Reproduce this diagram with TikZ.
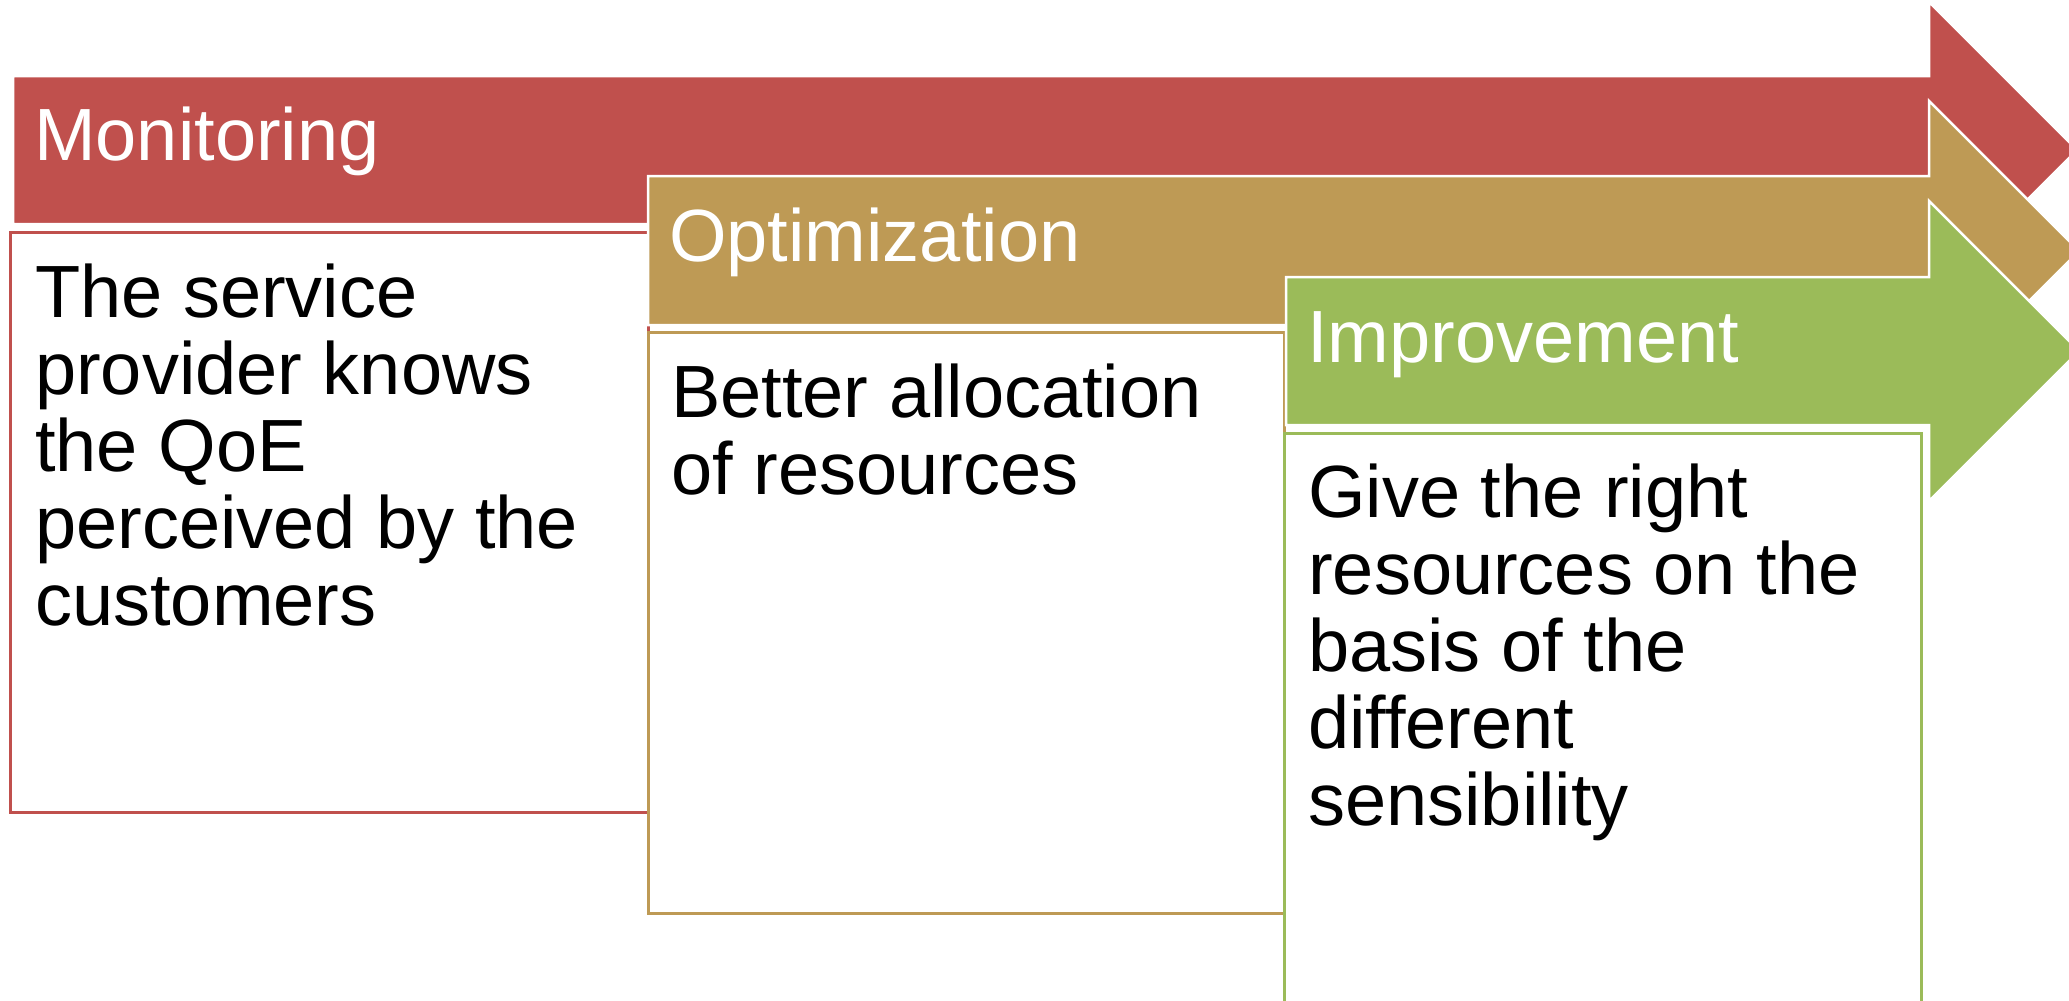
\documentclass[tikz,border=0pt]{standalone}
\usepackage{fontspec}
\setmainfont{Liberation Sans}
\definecolor{monred}{HTML}{C0504D}
\definecolor{opttan}{HTML}{BE9A55}
\definecolor{impgreen}{HTML}{9BBB59}
\begin{document}
\begin{tikzpicture}[x=1pt,y=-1pt,
  stagearrow/.style={fill=#1,draw=white,line width=2.5pt,line join=miter},
  stagebox/.style={fill=white,draw=#1,line width=3pt},
  heading/.style={anchor=base west,inner sep=0pt,text=white,
    font=\fontsize{74}{77}\selectfont},
  % multi-line text: the base anchor sits on the last line
  bodytext/.style={anchor=base west,inner sep=0pt,align=left,text=black,
    font=\fontsize{74}{77}\selectfont}]
\useasboundingbox (0,0) rectangle (2069,1001);
% one stage: arrow shaft with head, then the white text panel below it
% Monitoring
\draw[stagearrow=monred] (13,76) -- (1929,76) -- (1929,2) -- (2077,150)
  -- (1929,298) -- (1929,224) -- (13,224) -- cycle;
\draw[stagebox=monred] (10,232) rectangle (648,812);
\node[heading] (h1) at (34,160) {Monitoring};
\node[bodytext] (b1) at (35,625) {The service\\provider knows\\the QoE\\perceived by the\\customers};
% Optimization
\draw[stagearrow=opttan] (648,176) -- (1929,176) -- (1929,101) -- (2079,251)
  -- (1929,401) -- (1929,325) -- (648,325) -- cycle;
\draw[stagebox=opttan] (648,332) rectangle (1284,913);
\node[heading] (h2) at (669,261) {Optimization};
\node[bodytext] (b2) at (671,494) {Better allocation\\of resources};
% Improvement
\draw[stagearrow=impgreen] (1286,277) -- (1929,277) -- (1929,201) -- (2079,351)
  -- (1929,501) -- (1929,425) -- (1286,425) -- cycle;
\draw[stagebox=impgreen] (1284,433) rectangle (1921,1020);
\node[heading] (h3) at (1307,362) {Improvement};
\node[bodytext] (b3) at (1308,825) {Give the right\\resources on the\\basis of the\\different\\sensibility};
\end{tikzpicture}
\end{document}
